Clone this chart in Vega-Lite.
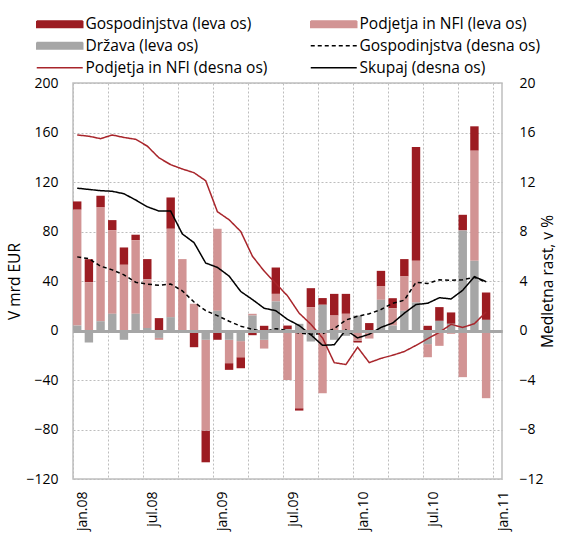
{
  "$schema": "https://vega.github.io/schema/vega-lite/v6.json",
  "width": 429,
  "height": 396,
  "autosize": {"type": "none"},
  "padding": {"left": 73, "top": 83, "right": 63, "bottom": 57},
  "background": "white",
  "config": {
    "font": "Open Sans",
    "view": {"stroke": "#BFBFBF", "strokeWidth": 1.5},
    "axis": {
      "labelFont": "Open Sans", "labelFontSize": 14, "labelColor": "#000000",
      "titleFont": "Open Sans", "titleFontSize": 15.5, "titleFontWeight": "normal", "titleColor": "#000000",
      "ticks": false, "domain": false,
      "gridColor": "#BDBDBD", "gridDash": [2, 2], "gridWidth": 1
    }
  },
  "datasets": {
    "bars": [
      {"m": "jan.08", "GL": 6.7, "PL": 93.6, "DL": 4},
      {"m": "feb.08", "GL": 18.6, "PL": 39, "DL": -9.7},
      {"m": "mar.08", "GL": 9.2, "PL": 92.2, "DL": 7.5},
      {"m": "apr.08", "GL": 8.1, "PL": 67.6, "DL": 13.5},
      {"m": "maj.08", "GL": 14, "PL": 53.1, "DL": -7.5},
      {"m": "jun.08", "GL": 4.4, "PL": 59.5, "DL": 13.5},
      {"m": "jul.08", "GL": 16.2, "PL": 39.5, "DL": 2},
      {"m": "avg.08", "GL": 10, "PL": -1.5, "DL": -6},
      {"m": "sep.08", "GL": 25.3, "PL": 71.4, "DL": 10.8},
      {"m": "okt.08", "GL": 0, "PL": 57.7, "DL": 0},
      {"m": "nov.08", "GL": -12.5, "PL": 21.6, "DL": -1},
      {"m": "dec.08", "GL": -25.6, "PL": -73.4, "DL": -7.5},
      {"m": "jan.09", "GL": -7.5, "PL": 66.3, "DL": 15.9},
      {"m": "feb.09", "GL": -5.4, "PL": -18.9, "DL": -7.5},
      {"m": "mar.09", "GL": -8.9, "PL": -13, "DL": -8.6},
      {"m": "apr.09", "GL": -3.8, "PL": 1.4, "DL": 12.1},
      {"m": "maj.09", "GL": 3.8, "PL": -7.1, "DL": -7.5},
      {"m": "jun.09", "GL": 21.3, "PL": 6.1, "DL": 23.5},
      {"m": "jul.09", "GL": 3, "PL": -40, "DL": 1},
      {"m": "avg.09", "GL": -1.9, "PL": -62.8, "DL": 5.4},
      {"m": "sep.09", "GL": 15.3, "PL": 18.9, "DL": -8.9},
      {"m": "okt.09", "GL": 5.4, "PL": -50.7, "DL": 20.8},
      {"m": "nov.09", "GL": 17.5, "PL": 12.1, "DL": -7.5},
      {"m": "dec.09", "GL": 16.1, "PL": 13.5, "DL": -4.3},
      {"m": "jan.10", "GL": -1.3, "PL": -8.4, "DL": 12.1},
      {"m": "feb.10", "GL": 6, "PL": -6.5, "DL": 0},
      {"m": "mar.10", "GL": 12.6, "PL": 10.8, "DL": 24.8},
      {"m": "apr.10", "GL": 8.1, "PL": 14, "DL": 4},
      {"m": "maj.10", "GL": 14, "PL": 27.8, "DL": 15.9},
      {"m": "jun.10", "GL": 91.9, "PL": 33.7, "DL": 22.6},
      {"m": "jul.10", "GL": 3.8, "PL": -10.6, "DL": -11},
      {"m": "avg.10", "GL": 11.1, "PL": -12.4, "DL": 7.8},
      {"m": "sep.10", "GL": 9.2, "PL": -2.7, "DL": 5.4},
      {"m": "okt.10", "GL": 12.6, "PL": -37.7, "DL": 80.9},
      {"m": "nov.10", "GL": 19.7, "PL": 89, "DL": 56.3},
      {"m": "dec.10", "GL": 22.1, "PL": -54.7, "DL": 8.6}
    ],
    "lines": [
      {"m": "jan.08", "GD": 5.95, "PD": 15.8, "SD": 11.5},
      {"m": "feb.08", "GD": 5.8, "PD": 15.7, "SD": 11.4},
      {"m": "mar.08", "GD": 5.2, "PD": 15.5, "SD": 11.3},
      {"m": "apr.08", "GD": 4.9, "PD": 15.8, "SD": 11.25},
      {"m": "maj.08", "GD": 4.5, "PD": 15.6, "SD": 11.05},
      {"m": "jun.08", "GD": 3.9, "PD": 15.45, "SD": 10.55},
      {"m": "jul.08", "GD": 3.75, "PD": 14.9, "SD": 10.0},
      {"m": "avg.08", "GD": 3.65, "PD": 13.95, "SD": 9.65},
      {"m": "sep.08", "GD": 3.75, "PD": 13.4, "SD": 9.65},
      {"m": "okt.08", "GD": 3.2, "PD": 13.05, "SD": 7.8},
      {"m": "nov.08", "GD": 2.3, "PD": 12.75, "SD": 7.1},
      {"m": "dec.08", "GD": 1.6, "PD": 12.1, "SD": 5.45},
      {"m": "jan.09", "GD": 1.2, "PD": 9.6, "SD": 5.1},
      {"m": "feb.09", "GD": 0.75, "PD": 8.95, "SD": 4.4},
      {"m": "mar.09", "GD": 0.35, "PD": 8.0, "SD": 3.15},
      {"m": "apr.09", "GD": 0.1, "PD": 6.0, "SD": 2.5},
      {"m": "maj.09", "GD": -0.1, "PD": 4.8, "SD": 1.8},
      {"m": "jun.09", "GD": 0.15, "PD": 3.8, "SD": 1.6},
      {"m": "jul.09", "GD": 0.0, "PD": 2.8, "SD": 0.9},
      {"m": "avg.09", "GD": -0.2, "PD": 1.4, "SD": 0.4},
      {"m": "sep.09", "GD": -0.3, "PD": 0.5, "SD": -0.35},
      {"m": "okt.09", "GD": -0.25, "PD": -0.6, "SD": -1.2},
      {"m": "nov.09", "GD": 0.15, "PD": -2.6, "SD": -1.15},
      {"m": "dec.09", "GD": 0.85, "PD": -2.75, "SD": 0.05},
      {"m": "jan.10", "GD": 1.15, "PD": -1.35, "SD": -0.6},
      {"m": "feb.10", "GD": 1.35, "PD": -2.6, "SD": -0.3},
      {"m": "mar.10", "GD": 1.7, "PD": -2.25, "SD": 0.25},
      {"m": "apr.10", "GD": 2.2, "PD": -2.0, "SD": 0.6},
      {"m": "maj.10", "GD": 2.45, "PD": -1.7, "SD": 1.4},
      {"m": "jun.10", "GD": 3.9, "PD": -1.2, "SD": 2.1},
      {"m": "jul.10", "GD": 3.8, "PD": -0.66, "SD": 2.2},
      {"m": "avg.10", "GD": 4.1, "PD": -0.15, "SD": 2.65},
      {"m": "sep.10", "GD": 4.05, "PD": 0.5, "SD": 2.55},
      {"m": "okt.10", "GD": 4.1, "PD": 0.25, "SD": 3.25},
      {"m": "nov.10", "GD": 4.3, "PD": 0.55, "SD": 4.35},
      {"m": "dec.10", "GD": 3.9, "PD": 1.5, "SD": 3.95}
    ]
  },
  "layer": [
    {
      "data": {"name": "bars"},
      "transform": [
        {"fold": ["GL", "PL", "DL"], "as": ["s", "v"]},
        {"calculate": "datum.s == 'DL' ? 0 : (datum.s == 'PL' ? 1 : 2)", "as": "ord"}
      ],
      "mark": {"type": "bar"},
      "encoding": {
        "x": {
          "field": "m", "type": "ordinal",
          "scale": {
            "domain": ["jan.08","feb.08","mar.08","apr.08","maj.08","jun.08","jul.08","avg.08","sep.08","okt.08","nov.08","dec.08",
                       "jan.09","feb.09","mar.09","apr.09","maj.09","jun.09","jul.09","avg.09","sep.09","okt.09","nov.09","dec.09",
                       "jan.10","feb.10","mar.10","apr.10","maj.10","jun.10","jul.10","avg.10","sep.10","okt.10","nov.10","dec.10","jan.11"],
            "paddingInner": 0.28, "paddingOuter": 0
          },
          "axis": {
            "values": ["jan.08","apr.08","jul.08","okt.08","jan.09","apr.09","jul.09","okt.09","jan.10","apr.10","jul.10","okt.10","jan.11"],
            "labelExpr": "(indexof(datum.value,'jan')==0 || indexof(datum.value,'jul')==0) ? datum.value : ''",
            "labelAngle": -90, "labelAlign": "right", "labelBaseline": "middle",
            "bandPosition": 0, "labelOffset": 6,
            "grid": true, "gridDash": [2, 2], "gridColor": "#BDBDBD", "title": null, "labelPadding": 12
          }
        },
        "y": {
          "field": "v", "type": "quantitative", "stack": "zero",
          "scale": {"domain": [-120, 200], "nice": false},
          "axis": {
            "values": [-120, -80, -40, 0, 40, 80, 120, 160, 200], "title": "V mrd EUR", "grid": true, "labelPadding": 15, "titlePadding": 3,
            "gridColor": {"condition": {"test": "datum.value === 0", "value": "#A6A6A6"}, "value": "#BDBDBD"},
            "gridWidth": {"condition": {"test": "datum.value === 0", "value": 3}, "value": 1},
            "gridDash": {"condition": {"test": "datum.value === 0", "value": []}, "value": [2, 2]}
          }
        },
        "color": {
          "field": "s", "type": "nominal",
          "scale": {
            "domain": ["GL", "DL", "PD", "PL", "GD", "SD"],
            "range": ["#9C1C22", "#A6A6A6", "#A8252B", "#D29494", "#000000", "#000000"]
          },
          "legend": {
            "orient": "none", "legendX": -39, "legendY": -67, "columns": 2, "title": null,
            "rowPadding": 5, "columnPadding": 39,
            "symbolSize": 100, "symbolStrokeWidth": 1.5, "labelOffset": 36,
            "labelFont": "Open Sans", "labelFontSize": 15.5, "labelColor": "#000000", "labelLimit": 400,
            "labelExpr": "datum.value == 'GL' ? 'Gospodinjstva (leva os)' : datum.value == 'PL' ? 'Podjetja in NFI (leva os)' : datum.value == 'DL' ? 'Država (leva os)' : datum.value == 'GD' ? 'Gospodinjstva (desna os)' : datum.value == 'PD' ? 'Podjetja in NFI (desna os)' : 'Skupaj (desna os)'",
            "encode": {
              "symbols": {
                "update": {
                  "shape": {"signal": "(datum.value == 'GL' || datum.value == 'PL' || datum.value == 'DL') ? 'M-1,-0.65H8.2V0.65H-1Z' : 'M-1,0H8.2'"},
                  "fill": {"signal": "datum.value == 'GL' ? '#9C1C22' : datum.value == 'PL' ? '#D29494' : datum.value == 'DL' ? '#A6A6A6' : 'transparent'"},
                  "stroke": {"signal": "datum.value == 'PD' ? '#A8252B' : ((datum.value == 'GD' || datum.value == 'SD') ? '#000000' : 'transparent')"},
                  "strokeWidth": {"value": 1.5},
                  "strokeDash": {"signal": "datum.value == 'GD' ? [4, 3] : [1, 0]"},
                  "opacity": {"value": 1}
                }
              }
            }
          }
        },
        "order": {"field": "ord", "type": "quantitative"}
      }
    },
    {
      "data": {"name": "lines"},
      "transform": [{"fold": ["GD", "PD", "SD"], "as": ["s", "v"]}],
      "mark": {"type": "line", "strokeWidth": 1.5},
      "encoding": {
        "x": {"field": "m", "type": "ordinal"},
        "y": {
          "field": "v", "type": "quantitative",
          "scale": {"domain": [-12, 20], "nice": false},
          "axis": {
            "orient": "right", "values": [-12, -8, -4, 0, 4, 8, 12, 16, 20], "title": "Medletna rast, v %", "titleAngle": -90,
            "labelPadding": 17, "titlePadding": 12, "zindex": 1,
            "grid": true,
            "gridColor": {"condition": {"test": "datum.value === 0", "value": "#A6A6A6"}, "value": "transparent"},
            "gridWidth": {"condition": {"test": "datum.value === 0", "value": 3}, "value": 0},
            "gridDash": {"condition": {"test": "datum.value === 0", "value": []}, "value": [2, 2]}
          }
        },
        "color": {"field": "s", "type": "nominal"},
        "strokeDash": {
          "field": "s", "type": "nominal",
          "scale": {"domain": ["GD", "PD", "SD"], "range": [[4, 3], [1, 0], [1, 0]]},
          "legend": null
        }
      }
    }
  ],
  "resolve": {"scale": {"y": "independent"}}
}
